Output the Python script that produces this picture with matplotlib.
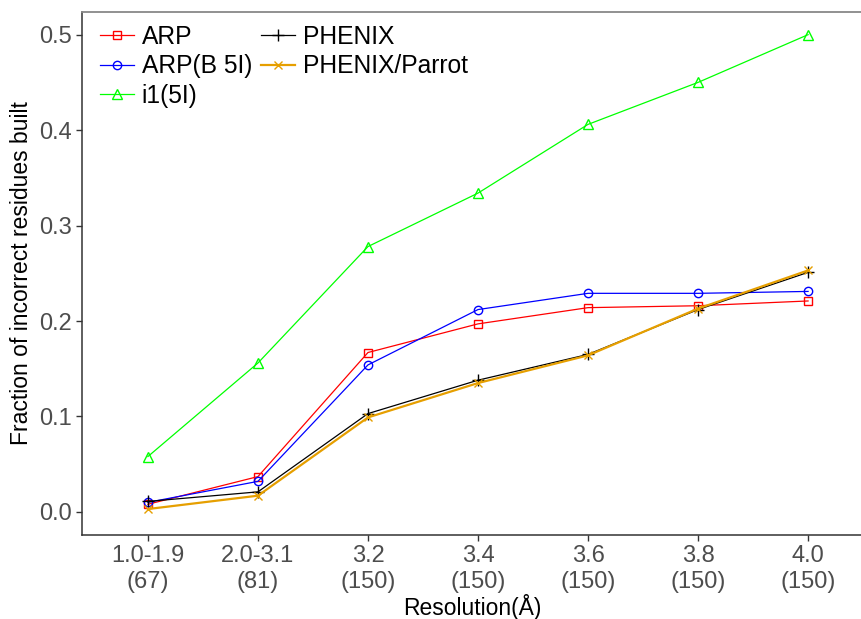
import numpy as np
import matplotlib.pyplot as plt

plt.rcParams['font.family'] = ['Liberation Sans', 'DejaVu Sans']

categories = ['1.0-1.9\n(67)', '2.0-3.1\n(81)', '3.2\n(150)', '3.4\n(150)',
              '3.6\n(150)', '3.8\n(150)', '4.0\n(150)']

arp = [0.008, 0.037, 0.167, 0.197, 0.214, 0.216, 0.221]
arp_b5i = [0.010, 0.032, 0.154, 0.212, 0.229, 0.229, 0.231]
i1_5i = [0.058, 0.156, 0.278, 0.334, 0.406, 0.450, 0.500]
phenix = [0.011, 0.021, 0.103, 0.138, 0.165, 0.212, 0.251]
phenix_parrot = [0.003, 0.017, 0.099, 0.135, 0.164, 0.213, 0.253]

x = np.arange(len(categories))

fig = plt.figure(figsize=(8.62, 6.19), dpi=100)
ax = fig.add_axes([0.095, 0.136, 0.905, 0.845])

ax.plot(x, arp, color='#FF0000', lw=0.9, marker='s', ms=6, mfc='none', mew=1.0, label='ARP')
ax.plot(x, arp_b5i, color='#0000FF', lw=0.9, marker='o', ms=6, mfc='none', mew=1.0, label='ARP(B 5I)')
ax.plot(x, i1_5i, color='#00FF00', lw=0.9, marker='^', ms=7, mfc='none', mew=1.0, label='i1(5I)')
ax.plot(x, phenix, color='black', lw=0.9, marker='+', ms=9, mew=1.0, label='PHENIX')
ax.plot(x, phenix_parrot, color='#E69F00', lw=1.6, marker='x', ms=6, mew=1.0, label='PHENIX/Parrot')

ax.set_xlim(-0.6, 6.49)
ax.set_ylim(-0.024, 0.524)
ax.set_xticks(x)
ax.set_xticklabels(categories)
ax.set_yticks([0.0, 0.1, 0.2, 0.3, 0.4, 0.5])
ax.set_yticklabels(['0.0', '0.1', '0.2', '0.3', '0.4', '0.5'])
ax.tick_params(labelsize=17, labelcolor='#4D4D4D', color='#333333', length=4, width=1)

for s in ['left', 'bottom']:
    ax.spines[s].set_color('#333333')
    ax.spines[s].set_linewidth(1.1)
ax.spines['top'].set_color('#888888')
ax.spines['top'].set_linewidth(1.3)
ax.spines['right'].set_visible(False)

ax.set_xlabel('Resolution(Å)', fontsize=16.5, labelpad=1)
ax.set_ylabel('Fraction of incorrect residues built', fontsize=16.5, labelpad=4)

ax.legend(loc='upper left', ncol=2, frameon=False, fontsize=17.7,
          handlelength=1.4, handletextpad=0.3, columnspacing=0.35,
          labelspacing=0.22, borderaxespad=0.15, borderpad=0.3,
          bbox_to_anchor=(0.009, 0.996))

fig.savefig('out.png', dpi=100)
